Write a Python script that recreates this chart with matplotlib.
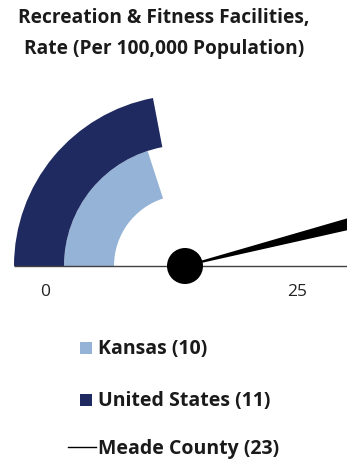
import matplotlib.pyplot as plt
from matplotlib.patches import Wedge, Circle, Polygon, Rectangle
import numpy as np

# gauge data
gauge_max = 25
tick_labels = ["0", "25"]
series_names = ["Kansas", "United States"]
series_values = [10, 11]
series_colors = ["#95b3d7", "#1f2a60"]
county_name = "Meade County"
county_value = 23

W, H = 347, 464
fig = plt.figure(figsize=(W / 100, H / 100), dpi=100)
ax = fig.add_axes([0, 0, 1, 1])
ax.set_xlim(0, W)
ax.set_ylim(0, H)
ax.axis("off")

font = "Open Sans"

def ang(v):
    # value -> degrees, 0 on the left, max on the right
    return 180 - 180 * v / gauge_max

cx, cy = 185, H - 267

# bands: inner ring for Kansas, outer ring for US
radii = [121, 171]
for name, v, col, r in zip(series_names, series_values, series_colors, radii):
    ax.add_patch(Wedge((cx, cy), r, ang(v), 180, width=50, facecolor=col, edgecolor="none"))

# baseline
ax.plot([14, W], [cy, cy], color="#404040", lw=1.0, solid_capstyle="butt")

# needle
a = np.radians(ang(county_value))
length = 240
tip = np.array([cx + length * np.cos(a), cy + length * np.sin(a)])
perp = np.array([-np.sin(a), np.cos(a)])
base = np.array([cx, cy])
half_w0, half_w1 = 0.6, 8
pts = [base + perp * half_w0, tip + perp * half_w1, tip - perp * half_w1, base - perp * half_w0]
ax.add_patch(Polygon(pts, closed=True, facecolor="black", edgecolor="none"))
ax.add_patch(Circle((cx, cy), 18, facecolor="black", edgecolor="none", zorder=5))

# scale labels
ax.text(45, H - 292, tick_labels[0], ha="center", va="center", fontsize=12.5, family=font, color="#222222")
ax.text(297, H - 292, tick_labels[1], ha="center", va="center", fontsize=12.5, family=font, color="#222222")

# title
ax.text(164, H - 18, "Recreation & Fitness Facilities,", ha="center", va="center",
        fontsize=13.8, fontweight="bold", family=font, color="#1a1a1a")
ax.text(164, H - 49, "Rate (Per 100,000 Population)", ha="center", va="center",
        fontsize=13.8, fontweight="bold", family=font, color="#1a1a1a")

# legend
leg_y = [349, 401]
for name, v, col, y in zip(series_names, series_values, series_colors, leg_y):
    ax.add_patch(Rectangle((80, H - y - 6), 12, 12, facecolor=col, edgecolor="none"))
    ax.text(98, H - y, f"{name} ({v})", ha="left", va="center", fontsize=14,
            fontweight="bold", family=font, color="#1a1a1a")
ax.plot([68, 96], [H - 448, H - 448], color="black", lw=1.0)
ax.text(98, H - 449, f"{county_name} ({county_value})", ha="left", va="center", fontsize=14,
        fontweight="bold", family=font, color="#1a1a1a")

fig.savefig("out.png", dpi=100)
